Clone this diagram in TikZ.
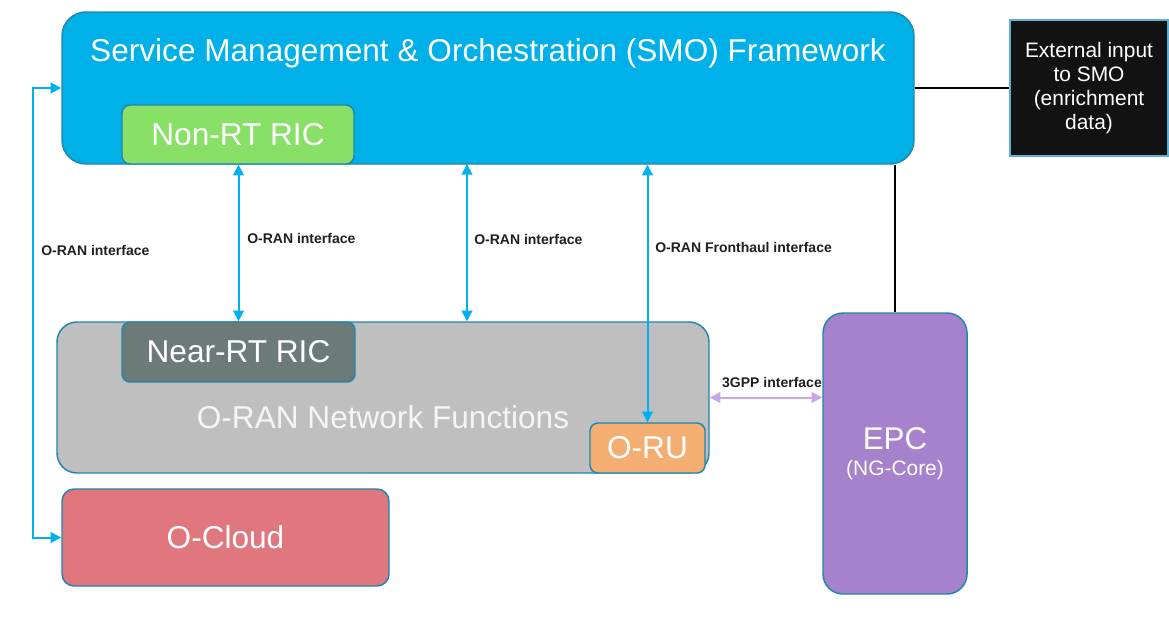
\documentclass[tikz,border=0pt]{standalone}
\usepackage{fontspec}
\setmainfont{Liberation Sans}
\usetikzlibrary{arrows.meta}

\definecolor{smoblue}{HTML}{00B0E8}
\definecolor{boxedge}{HTML}{1F86AE}
\definecolor{nonrtgreen}{HTML}{89E067}
\definecolor{nearrtgray}{HTML}{6C7A78}
\definecolor{nfgray}{HTML}{BFBFBF}
\definecolor{oruorange}{HTML}{F5AE72}
\definecolor{cloudred}{HTML}{E0777F}
\definecolor{epcpurple}{HTML}{A782CC}
\definecolor{extedge}{HTML}{5BB0D8}
\definecolor{ifblue}{HTML}{00B0F0}
\definecolor{gpplilac}{HTML}{C8A8E2}

\tikzset{
  >={Triangle[length=8pt,width=8pt]},
  box/.style={draw=boxedge,line width=1.1pt,inner sep=0pt,text=white},
  bigtext/.style={font=\fontsize{23.7}{27}\selectfont},
  iflabel/.style={font=\fontsize{10.5}{12}\selectfont\bfseries,text=black!88,inner sep=0.75pt}
}

\begin{document}
\begin{tikzpicture}[x=0.75pt,y=0.75pt,yscale=-1,xscale=1]
    \useasboundingbox (0,0) rectangle (1169,619);

    %Shape: Rounded Rectangle [id:smo]
    \node (smo) [box,fill=smoblue,rounded corners=18pt,minimum width=639pt,minimum height=114pt] at (488,88) {};
    %Shape: Rounded Rectangle [id:nonrt]
    \node (nonrt) [box,bigtext,fill=nonrtgreen,rounded corners=6pt,minimum width=174pt,minimum height=44.25pt] at (238,134.5) {Non-RT RIC};
    %Shape: Rounded Rectangle [id:nf]
    \node (nf) [box,fill=nfgray,rounded corners=15pt,minimum width=489pt,minimum height=113.25pt] at (383,397.5) {};
    %Shape: Rounded Rectangle [id:nearrt]
    \node (nearrt) [box,bigtext,fill=nearrtgray,rounded corners=6pt,minimum width=174.75pt,minimum height=45pt] at (238.5,352) {Near-RT RIC};
    %Shape: Rounded Rectangle [id:oru]
    \node (oru) [box,bigtext,fill=oruorange,rounded corners=6pt,minimum width=86.25pt,minimum height=37.5pt] at (647.5,448) {O-RU};
    %Shape: Rounded Rectangle [id:cloud]
    \node (cloud) [box,bigtext,fill=cloudred,rounded corners=9pt,minimum width=245.25pt,minimum height=72.75pt] at (225.5,537.5) {O-Cloud};
    %Shape: Rounded Rectangle [id:epc]
    \node (epc) [box,fill=epcpurple,rounded corners=15pt,minimum width=108pt,minimum height=210.75pt,align=center,font=\fontsize{15.7}{19.5}\selectfont] at (895,453.5) {{\fontsize{23.5}{24}\selectfont EPC}\\(NG-Core)};
    %Shape: Rectangle [id:ext]
    \node (ext) [draw=extedge,line width=0.9pt,fill=black!93,text=white,minimum width=118.5pt,minimum height=102pt,align=center,font=\fontsize{15.7}{18}\selectfont] at (1089,88) {External input\\to SMO\\(enrichment\\data)};

    % Text Node
    \node (smotitle) [bigtext,text=white,inner sep=0.75pt] at (488,53) {Service Management \& Orchestration (SMO) Framework};
    % Text Node
    \node (nftitle) [bigtext,text=white!96!black,inner sep=0.75pt] at (383,417) {O-RAN Network Functions};

    \coordinate (lbus) at (33,88);
    \coordinate (midif) at (467,164);

    %Straight Lines [id:left]
    \draw [ifblue,line width=1.5pt,<->] (smo.west) -- (lbus) |- (cloud.west);
    %Straight Lines [id:nearrt]
    \draw [ifblue,line width=1.5pt,<->] (nearrt.north |- smo.south) -- (nearrt.north);
    %Straight Lines [id:mid]
    \draw [ifblue,line width=1.5pt,<->] (midif) -- (midif |- nf.north);
    %Straight Lines [id:fronthaul]
    \draw [ifblue,line width=1.5pt,<->] (oru.north |- smo.south) -- (oru.north);
    %Straight Lines [id:3gpp]
    \draw [gpplilac,line width=1.5pt,<->] (nf.east) -- (nf.east -| epc.west);
    %Straight Lines [id:ext]
    \draw [black,line width=2.2pt] (smo.east) -- (ext.west);
    %Straight Lines [id:core]
    \draw [black,line width=2.2pt] (epc.north) -- (epc.north |- smo.south);

    % Text Node
    \node (lbl1) [iflabel,anchor=west] at (40,250) {O-RAN interface};
    % Text Node
    \node (lbl2) [iflabel,anchor=west] at (246,238) {O-RAN interface};
    % Text Node
    \node (lbl3) [iflabel,anchor=west] at (473,239) {O-RAN interface};
    % Text Node
    \node (lbl4) [iflabel,anchor=west] at (654,247) {O-RAN Fronthaul interface};
    % Text Node
    \node (lbl5) [iflabel] at (772,382) {3GPP interface};

\end{tikzpicture}
\end{document}
